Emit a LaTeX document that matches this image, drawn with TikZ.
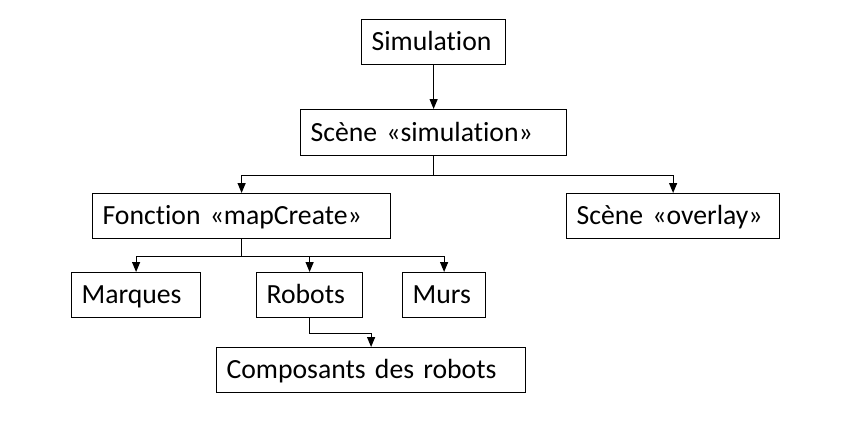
\documentclass[tikz,border=0pt]{standalone}
\usepackage{fontspec}
\setmainfont[Ligatures=NoCommon]{Carlito}
\usetikzlibrary{arrows.meta}

\begin{document}
\begin{tikzpicture}[x=1pt, y=-1pt,
    box/.style={draw, line width=1.2pt, anchor=north west, align=left,
        inner xsep=10pt, inner ysep=0pt, minimum height=45pt,
        text height=21.5pt, text depth=4.5pt,
        font=\fontsize{27.7}{33}\selectfont},
    arr/.style={line width=1.2pt, -{Triangle[length=10pt,width=8pt]}}]
    \useasboundingbox (0,0) rectangle (856,437);
    % boxes
    \node[box, text width=124pt] (sim) at (361,19) {Simulation};
    \node[box, text width=246pt, minimum height=46pt] (scn) at (300,109) {Scène «simulation»};
    \node[box, text width=278pt] (fct) at (92,193) {Fonction «mapCreate»};
    \node[box, text width=193pt] (ovl) at (566,193) {Scène «overlay»};
    \node[box, text width=109pt] (mrq) at (71,272) {Marques};
    \node[box, text width=86pt] (rob) at (256,272) {Robots};
    \node[box, text width=63pt] (mur) at (402,272) {Murs};
    \node[box, text width=289pt] (cmp) at (216,347) {Composants des robots};
    % links
    \draw[arr] (sim) -- (scn);
    \draw[arr] (scn.south) -- ++(0,19) -| (fct.north);
    \draw[arr] (scn.south) -- ++(0,19) -| (ovl.north);
    \draw[arr] (fct.south) -- ++(0,17) -| (mrq.north);
    \draw[arr] (fct.south) -- ++(0,17) -| (rob.north);
    \draw[arr] (fct.south) -- ++(0,17) -| (mur.north);
    \draw[arr] (rob.south) -- ++(0,15) -| (cmp.north);
\end{tikzpicture}
\end{document}
